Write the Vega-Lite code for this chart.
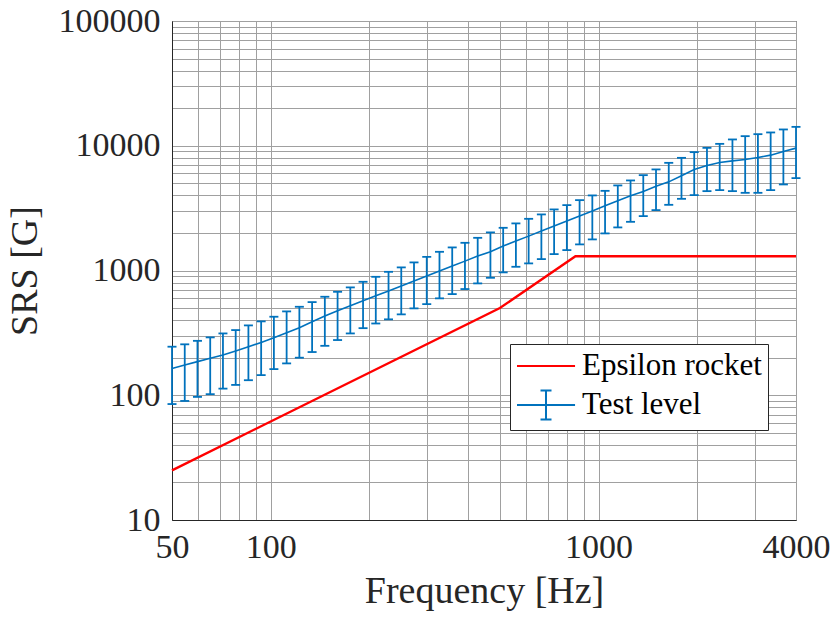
{
  "$schema": "https://vega.github.io/schema/vega-lite/v6.json",
  "width": 624,
  "height": 499,
  "autosize": {"type": "none"},
  "padding": {"left": 172, "top": 21, "right": 39, "bottom": 99},
  "background": "white",
  "config": {
    "font": "'Liberation Serif', 'Times New Roman', 'DejaVu Serif', serif",
    "view": {"stroke": "#262626", "strokeWidth": 1},
    "axis": {
      "grid": true,
      "gridColor": "#a0a0a0",
      "gridWidth": 1,
      "ticks": false,
      "domainColor": "#262626",
      "labelFont": "'Liberation Serif', 'Times New Roman', 'DejaVu Serif', serif",
      "labelColor": "#262626",
      "labelFontSize": 34,
      "labelOverlap": false,
      "labelFlush": false,
      "titleFont": "'Liberation Serif', 'Times New Roman', 'DejaVu Serif', serif",
      "titleFontSize": 38,
      "titleFontWeight": "normal",
      "titleColor": "#262626"
    },
    "legend": {
      "labelFont": "'Liberation Serif', 'Times New Roman', 'DejaVu Serif', serif",
      "labelFontSize": 31,
      "labelColor": "#000000",
      "labelLimit": 500,
      "symbolSize": 900,
      "symbolStrokeWidth": 2,
      "symbolOpacity": 1,
      "labelOffset": 34,
      "rowPadding": 5,
      "padding": 6,
      "strokeColor": "#262626",
      "fillColor": "white"
    }
  },
  "datasets": {
    "blue": [
      {"f": 50, "ctr": 164, "lo": 85, "hi": 245},
      {"f": 54.68, "ctr": 175, "lo": 90, "hi": 256},
      {"f": 59.79, "ctr": 186, "lo": 97, "hi": 273},
      {"f": 65.39, "ctr": 198, "lo": 102, "hi": 291},
      {"f": 71.51, "ctr": 210, "lo": 113, "hi": 313},
      {"f": 78.2, "ctr": 226, "lo": 121, "hi": 333},
      {"f": 85.51, "ctr": 245, "lo": 132, "hi": 363},
      {"f": 93.51, "ctr": 265, "lo": 145, "hi": 391},
      {"f": 102.26, "ctr": 289, "lo": 162, "hi": 426},
      {"f": 111.83, "ctr": 317, "lo": 180, "hi": 470},
      {"f": 122.3, "ctr": 347, "lo": 200, "hi": 512},
      {"f": 133.74, "ctr": 388, "lo": 222, "hi": 558},
      {"f": 146.25, "ctr": 431, "lo": 249, "hi": 616},
      {"f": 159.94, "ctr": 476, "lo": 277, "hi": 675},
      {"f": 174.9, "ctr": 521, "lo": 313, "hi": 732},
      {"f": 191.27, "ctr": 572, "lo": 345, "hi": 812},
      {"f": 209.17, "ctr": 627, "lo": 376, "hi": 890},
      {"f": 228.74, "ctr": 686, "lo": 406, "hi": 976},
      {"f": 250.14, "ctr": 750, "lo": 445, "hi": 1059},
      {"f": 273.55, "ctr": 822, "lo": 497, "hi": 1161},
      {"f": 299.15, "ctr": 902, "lo": 538, "hi": 1288},
      {"f": 327.14, "ctr": 989, "lo": 598, "hi": 1412},
      {"f": 357.75, "ctr": 1085, "lo": 647, "hi": 1531},
      {"f": 391.22, "ctr": 1189, "lo": 710, "hi": 1667},
      {"f": 427.83, "ctr": 1305, "lo": 788, "hi": 1828},
      {"f": 467.86, "ctr": 1412, "lo": 874, "hi": 2020},
      {"f": 511.64, "ctr": 1569, "lo": 966, "hi": 2199},
      {"f": 559.52, "ctr": 1720, "lo": 1071, "hi": 2385},
      {"f": 611.87, "ctr": 1886, "lo": 1140, "hi": 2596},
      {"f": 669.12, "ctr": 2069, "lo": 1234, "hi": 2815},
      {"f": 731.73, "ctr": 2269, "lo": 1353, "hi": 3087},
      {"f": 800.2, "ctr": 2493, "lo": 1457, "hi": 3342},
      {"f": 875.07, "ctr": 2738, "lo": 1619, "hi": 3665},
      {"f": 956.95, "ctr": 3003, "lo": 1775, "hi": 3998},
      {"f": 1046.5, "ctr": 3299, "lo": 1983, "hi": 4351},
      {"f": 1144.4, "ctr": 3619, "lo": 2215, "hi": 4807},
      {"f": 1251.5, "ctr": 3968, "lo": 2456, "hi": 5271},
      {"f": 1368.6, "ctr": 4303, "lo": 2728, "hi": 5813},
      {"f": 1496.7, "ctr": 4727, "lo": 3048, "hi": 6459},
      {"f": 1636.7, "ctr": 5136, "lo": 3361, "hi": 7295},
      {"f": 1789.8, "ctr": 5739, "lo": 3754, "hi": 8000},
      {"f": 1957.3, "ctr": 6459, "lo": 4020, "hi": 8887},
      {"f": 2140.5, "ctr": 6952, "lo": 4327, "hi": 9620},
      {"f": 2340.8, "ctr": 7347, "lo": 4408, "hi": 10356},
      {"f": 2559.8, "ctr": 7568, "lo": 4327, "hi": 11233},
      {"f": 2799.3, "ctr": 7767, "lo": 4194, "hi": 11937},
      {"f": 3061.2, "ctr": 8058, "lo": 4194, "hi": 12384},
      {"f": 3347.7, "ctr": 8407, "lo": 4408, "hi": 12780},
      {"f": 3660.9, "ctr": 9000, "lo": 4896, "hi": 13508},
      {"f": 4000, "ctr": 9568, "lo": 5501, "hi": 14170}
    ],
    "red": [
      {"f": 50, "v": 25},
      {"f": 500, "v": 500},
      {"f": 850, "v": 1300},
      {"f": 4000, "v": 1300}
    ],
    "legendItems": []
  },
  "encoding": {
    "x": {
      "field": "f",
      "type": "quantitative",
      "scale": {"type": "log", "domain": [50, 4000], "nice": false},
      "axis": {
        "title": "Frequency [Hz]",
        "values": [50, 60, 70, 80, 90, 100, 200, 300, 400, 500, 600, 700, 800, 900, 1000, 2000, 3000, 4000],
        "labelExpr": "indexof([50, 100, 1000, 4000], datum.value) >= 0 ? format(datum.value, 'd') : ''",
        "labelPadding": 10,
        "titlePadding": 8
      }
    }
  },
  "layer": [
    {
      "data": {"name": "blue"},
      "mark": {"type": "rule", "color": "#0072bd", "strokeWidth": 1.8},
      "encoding": {
        "y": {
          "field": "lo",
          "type": "quantitative",
          "scale": {"type": "log", "domain": [10, 100000], "nice": false},
          "axis": {
            "title": "SRS [G]",
            "values": [10, 20, 30, 40, 50, 60, 70, 80, 90, 100, 200, 300, 400, 500, 600, 700, 800, 900, 1000, 2000, 3000, 4000, 5000, 6000, 7000, 8000, 9000, 10000, 20000, 30000, 40000, 50000, 60000, 70000, 80000, 90000, 100000],
            "labelExpr": "indexof([10, 100, 1000, 10000, 100000], datum.value) >= 0 ? format(datum.value, 'd') : ''",
            "labelPadding": 12,
            "titlePadding": 14
          }
        },
        "y2": {"field": "hi"}
      }
    },
    {
      "data": {"name": "blue"},
      "mark": {"type": "tick", "orient": "horizontal", "color": "#0072bd", "size": 9, "thickness": 1.8, "opacity": 1},
      "encoding": {"y": {"field": "lo", "type": "quantitative"}}
    },
    {
      "data": {"name": "blue"},
      "mark": {"type": "tick", "orient": "horizontal", "color": "#0072bd", "size": 9, "thickness": 1.8, "opacity": 1},
      "encoding": {"y": {"field": "hi", "type": "quantitative"}}
    },
    {
      "data": {"name": "blue"},
      "mark": {"type": "line", "color": "#0072bd", "strokeWidth": 1.6},
      "encoding": {"y": {"field": "ctr", "type": "quantitative"}}
    },
    {
      "data": {"name": "red"},
      "mark": {"type": "line", "color": "#ff0000", "strokeWidth": 2.4},
      "encoding": {"y": {"field": "v", "type": "quantitative"}}
    },
    {
      "data": {"name": "legendItems"},
      "mark": {"type": "point", "filled": false, "opacity": 1},
      "encoding": {
        "y": {"field": "v", "type": "quantitative"},
        "color": {
          "field": "s",
          "type": "nominal",
          "scale": {"domain": ["Epsilon rocket", "Test level"], "range": ["#ff0000", "#0072bd"]},
          "legend": {
            "title": null,
            "orient": "none",
            "legendX": 338,
            "legendY": 323,
            "labelLimit": 500
          }
        },
        "shape": {
          "field": "s",
          "type": "nominal",
          "scale": {
            "domain": ["Epsilon rocket", "Test level"],
            "range": ["M-1,0H2.87", "M-1,0H2.87M0.933,-0.967V0.967M0.567,-0.967H1.3M0.567,0.967H1.3"]
          },
          "legend": {
            "title": null,
            "orient": "none",
            "legendX": 338,
            "legendY": 323,
            "labelLimit": 500
          }
        }
      }
    }
  ]
}
